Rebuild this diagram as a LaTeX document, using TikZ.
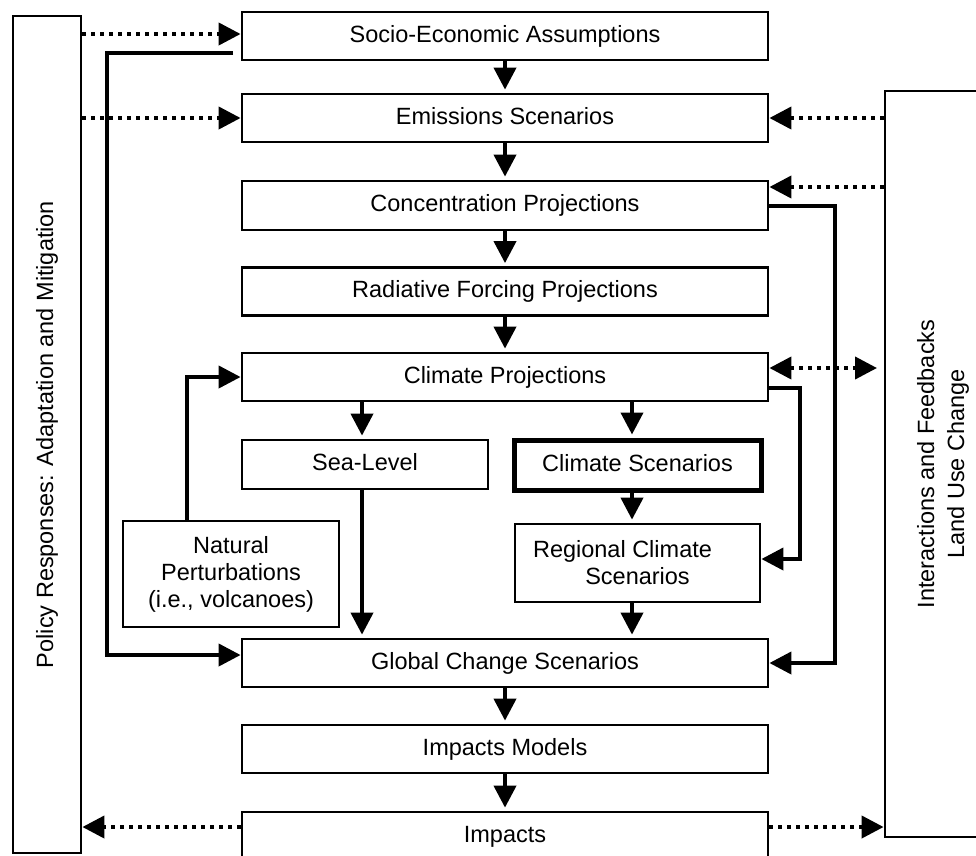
\documentclass[tikz,border=0pt]{standalone}
\usepackage{fontspec}
\setmainfont{Liberation Sans}
\usetikzlibrary{arrows.meta,calc}
\begin{document}
\begin{tikzpicture}[x=1pt,y=-1pt,
  txt/.style={font=\fontsize{23.5}{27}\selectfont},
  box/.style={txt, draw, line width=2.8pt, inner sep=0pt, minimum width=526pt, minimum height=48pt, text height=17pt, text depth=5pt},
  mbox/.style={txt, draw, line width=2.8pt, inner sep=0pt, align=center},
  tip/.style={-{Triangle[length=22pt,width=22pt]}},
  conn/.style={line width=4pt, tip},
  dline/.style={line width=4pt, dash pattern=on 4pt off 5pt, tip},
  dd/.style={line width=4pt, dash pattern=on 4pt off 5pt, {Triangle[length=22pt,width=22pt]}-{Triangle[length=22pt,width=22pt]}},
  sh/.style={shorten >=3pt}
]
\useasboundingbox (0,0) rectangle (976,855);
\clip (0,0) rectangle (976,855);

% side boxes
\node[draw, line width=2.8pt, minimum width=68pt, minimum height=837pt, inner sep=0pt] (pol) at (47,434.5) {};
\node[txt, rotate=90] at (pol.center) {Policy Responses: Adaptation and Mitigation};
\node[draw, line width=2.8pt, minimum width=116pt, minimum height=746pt, inner sep=0pt] (fb) at (943,464) {};
\node[txt, rotate=90, align=center, font=\fontsize{23.5}{30}\selectfont] at (fb.center) {Interactions and Feedbacks\\Land Use Change};

% central column
\node[box] (soc) at (505,36) {Socio-Economic Assumptions};
\node[box] (emi) at (505,118) {Emissions Scenarios};
\node[box, minimum height=49pt] (con) at (505,205.5) {Concentration Projections};
\node[box] (rad) at (505,291.5) {Radiative Forcing Projections};
\node[box] (cp) at (505,377) {Climate Projections};
\node[box, minimum width=246pt, minimum height=49pt] (sea) at (365,464.5) {Sea-Level};
\node[box, line width=5pt, minimum width=247pt, minimum height=50pt] (cs) at (637.5,465) {Climate Scenarios};
\node[mbox, minimum width=245pt, minimum height=78pt] (reg) at (637.5,563) {Regional Climate\hspace*{30pt}\\Scenarios};
\node[mbox, minimum width=216pt, minimum height=106pt] (nat) at (231,574) {Natural\\Perturbations\\(i.e., volcanoes)};
\node[box] (gcs) at (505,663) {Global Change Scenarios};
\node[box] (imm) at (505,749) {Impacts Models};
\node[box] (imp) at (505,836) {Impacts};

% helper coordinates
\coordinate (xs) at (362,0);
\coordinate (xc) at (632,0);
\coordinate (xl) at (107,0);
\coordinate (xr) at (835,0);
\coordinate (xq) at (800,0);
\coordinate (xn) at (187,0);
\coordinate (s1) at (233,53);
\coordinate (yl) at (0,655);
\coordinate (ycp) at (0,388);
\coordinate (yreg) at (0,559);
\coordinate (ycon) at (0,187);
\coordinate (ydd) at (0,368);
\coordinate (ddend) at (877,368);
\coordinate (yimp) at (0,827);
\coordinate (ysoc) at (0,34);

% vertical flow arrows
\draw[conn, sh] (soc.south) -- (emi.north);
\draw[conn, sh] (emi.south) -- (con.north);
\draw[conn, sh] (con.south) -- (rad.north);
\draw[conn, sh] (rad.south) -- (cp.north);
\draw[conn, sh] (cp.south -| xs) -- (sea.north -| xs);
\draw[conn, sh] (cp.south -| xc) -- (cs.north -| xc);
\draw[conn, sh] (cs.south -| xc) -- (reg.north -| xc);
\draw[conn, sh] (reg.south -| xc) -- (gcs.north -| xc);
\draw[conn, sh] (sea.south -| xs) -- (gcs.north -| xs);
\draw[conn, sh] (gcs.south) -- (imm.north);
\draw[conn, sh] (imm.south) -- (imp.north);

% elbow connectors
\draw[conn] (s1) -- (s1 -| xl) -- (yl -| xl) -- (yl -| gcs.west);
\draw[conn] (con.east) -- (con.east -| xr) -- (gcs.east -| xr) -- (gcs.east);
\draw[conn] (ycp -| cp.east) -- (ycp -| xq) -- (yreg -| xq) -- (yreg -| reg.east);
\draw[conn] (nat.north -| xn) -- (cp.west -| xn) -- (cp.west);

% dotted connectors
\draw[dline] (ysoc -| pol.east) -- (ysoc -| soc.west);
\draw[dline] (emi.west -| pol.east) -- (emi.west);
\draw[dline] (emi.east -| fb.west) -- (emi.east);
\draw[dline] (ycon -| fb.west) -- (ycon -| con.east);
\draw[dd] (ydd -| cp.east) -- (ddend);
\draw[dline] (yimp -| imp.west) -- (yimp -| pol.east);
\draw[dline] (yimp -| imp.east) -- (yimp -| fb.west);
\end{tikzpicture}
\end{document}
